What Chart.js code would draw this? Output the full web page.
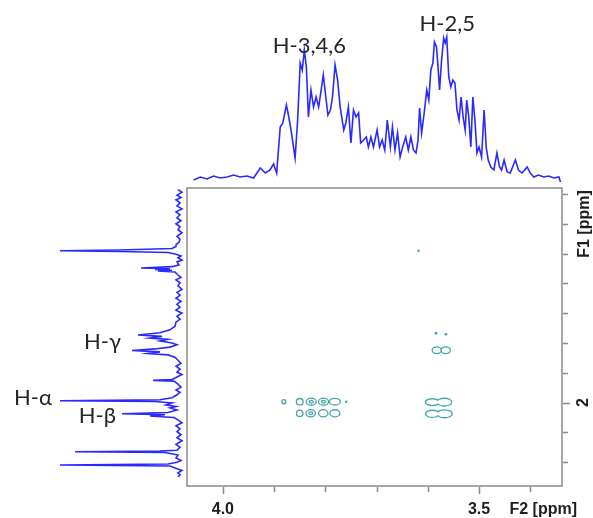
<!DOCTYPE html>
<html>
<head>
<meta charset="utf-8">
<script src="https://cdn.jsdelivr.net/npm/chart.js@4"></script>
<style>
  html, body { margin: 0; padding: 0; background: #fff; }
  #wrap { position: relative; width: 593px; height: 518px; }
  canvas { position: absolute; }
  #mainChart { left: 0; top: 0; }
  #topChart { left: 187px; top: 0; }
  #leftChart { left: 0; top: 188px; }
</style>
</head>
<body>
<div id="wrap">
  <canvas id="mainChart" width="593" height="518"></canvas>
  <canvas id="topChart" width="375" height="182"></canvas>
  <canvas id="leftChart" width="187" height="298"></canvas>
</div>
<script>
// axis windows (ppm) and ticks
var f2Min = 3.338, f2Max = 4.07;
var f1Min = 1.64, f1Max = 2.14;
var f2Ticks = [4.0, 3.9, 3.8, 3.7, 3.6, 3.5, 3.4];
var f2TickLabels = ['4.0', '', '', '', '', '3.5', ''];
var f1Ticks = [1.65, 1.70, 1.75, 1.80, 1.85, 1.90, 1.95, 2.00, 2.05, 2.10];
var f1TickLabels = ['', '', '', '', '', '', '', '2', '', ''];

// F2 projection (top trace)
var topPpm = [4.057,4.044,4.031,4.018,4.005,3.992,3.979,3.966,3.953,3.940,
  3.927,3.917,3.908,3.901,3.895,
  3.888,3.883,3.876,3.872,3.867,3.859,3.854,
  3.849,3.845,3.841,3.837,3.833,3.828,3.823,3.818,3.813,3.809,3.804,3.799,3.795,3.790,3.786,3.781,3.776,3.771,
  3.764,3.760,3.755,3.750,3.745,3.740,3.735,3.731,3.725,3.720,3.716,3.711,3.706,
  3.699,3.694,3.689,3.684,3.679,3.673,3.669,3.664,3.659,3.654,3.649,3.643,3.638,3.633,3.628,3.623,
  3.619,3.616,3.612,3.607,3.602,3.598,3.594,3.590,3.587,3.583,3.580,3.577,3.573,3.569,3.566,3.563,
  3.559,3.555,3.551,3.547,3.543,3.539,3.535,3.531,3.527,3.524,3.520,3.516,3.512,3.508,3.504,3.500,
  3.495,3.490,3.486,3.482,3.477,3.471,3.465,3.460,3.456,3.451,3.445,3.439,
  3.429,3.423,3.416,3.406,3.400,3.393,3.384,3.374,3.364,3.354,3.344,3.341];
var topInt = [0,3,1,4,2,3,5,3,4,2,
  12,7,10,16,7,
  53,57,75,65,50,22,60,
  117,110,130,113,63,90,73,83,73,87,105,83,65,70,83,115,100,73,
  50,57,73,37,70,63,67,37,40,43,33,43,33,
  50,33,40,30,60,33,53,30,47,23,33,43,30,43,30,27,
  40,72,47,67,90,80,110,117,138,133,113,90,120,142,137,143,
  103,93,100,97,70,60,83,63,50,80,63,33,83,60,27,33,
  23,70,33,20,13,10,27,13,10,20,8,7,
  20,10,7,13,7,3,5,3,4,2,3,-2];

// F1 projection (left trace)
var leftPpm = [1.643,1.647,1.652,1.656,1.660,1.665,1.670,1.675,1.680,1.685,1.690,1.695,1.700,1.705,1.710,1.715,1.721,1.726,1.731,
  1.735,1.738,1.7415,1.7440,1.7452,1.7465,1.7482,1.751,1.754,1.757,1.761,1.764,1.769,
  1.772,1.7742,1.7756,1.7768,1.7781,1.7793,1.781,1.786,1.790,1.794,1.799,1.804,
  1.810,1.815,1.820,1.825,1.830,1.835,1.840,1.845,1.850,1.855,1.860,1.865,1.872,1.878,1.883,1.8866,
  1.889,1.8916,1.894,1.8967,1.900,1.903,1.907,1.910,1.9127,1.915,
  1.9177,1.920,1.924,1.929,1.934,1.939,1.944,1.949,1.953,1.957,1.9613,1.9627,1.964,
  1.969,1.974,1.979,1.983,1.987,1.992,1.9953,1.9969,1.9982,2.0007,2.004,2.0066,
  2.009,2.0125,2.0167,2.0188,2.0205,2.0226,2.025,2.029,2.034,2.039,2.044,2.049,
  2.054,2.059,2.064,2.070,2.075,2.080,2.0813,2.0825,2.0838,2.088,2.093,2.097,2.100,2.103,
  2.1048,2.1065,2.111,2.114,2.118,2.121,2.125];
var leftInt = [2,-2,3,-1,4,0,3,-2,4,0,3,-1,4,0,2,-2,3,0,1,
  4,4,8,60,120,60,12,4,-1,2,-2,3,1,
  8,39,10,25,8,22,5,2,-1,4,0,2,
  -2,3,0,4,-1,3,0,4,-2,3,0,4,5,10,20,42,
  18,30,12,20,8,3,10,25,48,20,
  32,12,5,2,-1,4,0,3,-2,3,8,27,6,
  2,-1,4,0,3,8,20,120,25,8,14,4,
  10,3,12,58,15,30,6,2,-2,4,0,3,
  -1,3,-2,4,0,3,20,105,15,2,4,-1,3,12,
  120,10,3,-2,2,0,2];

// cross peaks: centre, half widths (ppm), contour levels (0 = tip only), merged contour group
var cpF2 = [3.881,3.850,3.8275,3.8035,3.7813,3.7592, 3.850,3.8285,3.8040,3.7813,
  3.5912,3.5678, 3.5912,3.5672, 3.5824,3.5648, 3.584,3.5645, 3.618];
var cpF1 = [1.9986,1.9986,1.9986,1.9986,1.9986,1.9986, 2.018,2.018,2.018,2.018,
  1.9993,1.9993, 2.0189,2.0189, 1.9123,1.9123, 1.8838,1.8855, 1.7452];
var cpHalfW = [0.0039,0.0066,0.0098,0.0098,0.0107,0.0025, 0.0064,0.0092,0.0092,0.0098,
  0.0122,0.0134, 0.0122,0.0138, 0.009,0.009, 0.0027,0.0027, 0.0023];
var cpHalfH = [0.0034,0.0054,0.0059,0.0059,0.0055,0.0022, 0.0054,0.0060,0.0060,0.0059,
  0.0046,0.0054, 0.0049,0.0055, 0.0057,0.0057, 0.0024,0.0024, 0.0020];
var cpLevels = [1,1,2,2,1,0, 1,2,1,1, 1,1, 1,1, 1,1, 0,0, 0];
var cpGroup = [0,0,0,0,0,0, 0,0,0,0, 1,1, 2,2, 0,0, 0,0, 0];

// annotations
var topLabels = ['H-3,4,6', 'H-2,5'];
var topLabelPpm = [3.831, 3.562];
var topLabelInt = [134, 156];
var leftLabels = ['H-γ', 'H-α', 'H-β'];
var leftLabelPpm = [1.898, 1.9923, 2.0226];
var leftLabelInt = [59, 128, 64];

var specColor = '#2a2aff';
var contourColor = '#45a6a6';
var axisColor = '#8a8a8a';
var textColor = '#1e1e1e';

function pairs(xs, ys) {
  return xs.map(function (x, i) { return { x: x, y: ys[i] }; });
}

function fixedTicks(values) {
  return function (scale) {
    scale.ticks = values.map(function (v) { return { value: v }; });
  };
}

// text labels anchored to data positions
var labelPlugin = {
  id: 'peakLabels',
  afterDatasetsDraw: function (chart, args, opts) {
    var ctx = chart.ctx, sx = chart.scales.x, sy = chart.scales.y;
    ctx.save();
    ctx.font = opts.font;
    ctx.fillStyle = '#262626';
    ctx.textAlign = opts.align;
    ctx.textBaseline = 'middle';
    opts.text.forEach(function (t, i) {
      ctx.fillText(t, sx.getPixelForValue(opts.xs[i]), sy.getPixelForValue(opts.ys[i]));
    });
    ctx.restore();
  }
};

// frame, tick marks, axis titles and rotated F1 labels
var framePlugin = {
  id: 'frame',
  beforeDatasetsDraw: function (chart) {
    var ctx = chart.ctx, a = chart.chartArea, sx = chart.scales.x, sy = chart.scales.y;
    ctx.save();
    ctx.strokeStyle = axisColor;
    ctx.lineWidth = 1.5;
    ctx.strokeRect(a.left, a.top, a.right - a.left, a.bottom - a.top);
    ctx.beginPath();
    f2Ticks.forEach(function (v, i) {
      var px = Math.round(sx.getPixelForValue(v)) + 0.5;
      ctx.moveTo(px, a.bottom + 1);
      ctx.lineTo(px, a.bottom + (f2TickLabels[i] ? 8 : 6));
    });
    f1Ticks.forEach(function (v, i) {
      var py = Math.round(sy.getPixelForValue(v)) + 0.5;
      ctx.moveTo(a.right + 1, py);
      ctx.lineTo(a.right + (f1TickLabels[i] ? 8 : 6), py);
    });
    ctx.stroke();
    ctx.restore();
  },
  afterDraw: function (chart) {
    var ctx = chart.ctx, a = chart.chartArea, sy = chart.scales.y;
    ctx.save();
    ctx.fillStyle = textColor;
    ctx.font = 'bold 16px "Liberation Sans", Arial, sans-serif';
    ctx.textBaseline = 'middle';
    ctx.textAlign = 'right';
    ctx.fillText('F2 [ppm]', chart.width - 16, a.bottom + 24);
    // F1 labels read bottom to top
    f1Ticks.forEach(function (v, i) {
      if (!f1TickLabels[i]) return;
      ctx.save();
      ctx.translate(chart.width - 9, sy.getPixelForValue(v));
      ctx.rotate(-Math.PI / 2);
      ctx.textAlign = 'center';
      ctx.fillText(f1TickLabels[i], 0, 0);
      ctx.restore();
    });
    ctx.translate(chart.width - 8, a.top + 36);
    ctx.rotate(-Math.PI / 2);
    ctx.textAlign = 'center';
    ctx.fillText('F1 [ppm]', 0, 0);
    ctx.restore();
  }
};

function ellipsePath(ctx, sx, sy, i, k) {
  var cx = sx.getPixelForValue(cpF2[i]), cy = sy.getPixelForValue(cpF1[i]);
  var rx = Math.abs(sx.getPixelForValue(cpF2[i] + cpHalfW[i]) - cx) * k;
  var ry = Math.abs(sy.getPixelForValue(cpF1[i] + cpHalfH[i]) - cy) * k;
  ctx.beginPath();
  ctx.ellipse(cx, cy, rx, ry, 0, 0, Math.PI * 2);
}

// contour outlines of the cross peaks
var contourPlugin = {
  id: 'contours',
  afterDatasetsDraw: function (chart) {
    var ctx = chart.ctx, sx = chart.scales.x, sy = chart.scales.y, a = chart.chartArea;
    ctx.save();
    ctx.beginPath();
    ctx.rect(a.left, a.top, a.right - a.left, a.bottom - a.top);
    ctx.clip();
    ctx.strokeStyle = contourColor;
    ctx.fillStyle = contourColor;
    ctx.lineWidth = 1.3;
    cpF2.forEach(function (v, i) {
      if (cpGroup[i]) return;
      if (cpLevels[i] === 0) {
        ellipsePath(ctx, sx, sy, i, 1);
        ctx.fill();
        return;
      }
      ellipsePath(ctx, sx, sy, i, 1);
      ctx.stroke();
      if (cpLevels[i] > 1) {
        ellipsePath(ctx, sx, sy, i, 0.4);
        ctx.stroke();
      }
    });
    // merged lobes: stroke wide, then blank the inside to keep only the outer edge
    var groups = cpGroup.filter(function (g, i, arr) { return g && arr.indexOf(g) === i; });
    groups.forEach(function (g) {
      var idx = [];
      cpGroup.forEach(function (h, i) { if (h === g) idx.push(i); });
      ctx.lineWidth = 2.6;
      idx.forEach(function (i) { ellipsePath(ctx, sx, sy, i, 1); ctx.stroke(); });
      ctx.fillStyle = '#fff';
      idx.forEach(function (i) { ellipsePath(ctx, sx, sy, i, 1); ctx.fill(); });
    });
    ctx.restore();
  }
};

Chart.defaults.animation = false;

new Chart(document.getElementById('mainChart'), {
  type: 'scatter',
  data: {
    datasets: [{
      data: pairs(cpF2, cpF1),
      pointRadius: 0,
      pointHoverRadius: 0
    }]
  },
  options: {
    responsive: false,
    layout: { padding: { left: 187, top: 188, right: 0, bottom: 0 } },
    plugins: { legend: { display: false }, tooltip: { enabled: false } },
    scales: {
      x: {
        type: 'linear', position: 'bottom', reverse: true,
        min: f2Min, max: f2Max,
        afterBuildTicks: fixedTicks(f2Ticks),
        afterFit: function (s) { s.height = 32; },
        border: { display: false },
        grid: { drawOnChartArea: false, drawTicks: true, tickLength: 6, color: 'rgba(0,0,0,0)' },
        ticks: {
          autoSkip: false, maxRotation: 0, padding: 8,
          color: textColor,
          font: { family: '"Liberation Sans", Arial, sans-serif', size: 16, weight: 'bold' },
          callback: function (v, i) { return f2TickLabels[i]; }
        }
      },
      y: {
        type: 'linear', position: 'right', reverse: true,
        min: f1Min, max: f1Max,
        afterBuildTicks: fixedTicks(f1Ticks),
        afterFit: function (s) { s.width = 31; },
        border: { display: false },
        grid: { display: false },
        ticks: { display: false }
      }
    }
  },
  plugins: [framePlugin, contourPlugin]
});

new Chart(document.getElementById('topChart'), {
  type: 'scatter',
  data: {
    datasets: [{
      data: pairs(topPpm, topInt),
      showLine: true,
      borderColor: specColor,
      borderWidth: 1.6,
      pointRadius: 0
    }]
  },
  options: {
    responsive: false,
    layout: { padding: 0 },
    plugins: {
      legend: { display: false }, tooltip: { enabled: false },
      peakLabels: { text: topLabels, xs: topLabelPpm, ys: topLabelInt, align: 'center',
        font: '22px Lato, "Open Sans", sans-serif' }
    },
    scales: {
      x: { type: 'linear', display: false, reverse: true, min: f2Min, max: f2Max },
      y: { type: 'linear', display: false, min: -2, max: 180 }
    }
  },
  plugins: [labelPlugin]
});

new Chart(document.getElementById('leftChart'), {
  type: 'scatter',
  data: {
    datasets: [{
      data: pairs(leftInt, leftPpm),
      showLine: true,
      borderColor: specColor,
      borderWidth: 1.6,
      pointRadius: 0
    }]
  },
  options: {
    responsive: false,
    layout: { padding: 0 },
    plugins: {
      legend: { display: false }, tooltip: { enabled: false },
      peakLabels: { text: leftLabels, xs: leftLabelInt, ys: leftLabelPpm, align: 'right',
        font: '22px Lato, "Open Sans", sans-serif' }
    },
    scales: {
      x: { type: 'linear', display: false, reverse: true, min: -7, max: 180 },
      y: { type: 'linear', display: false, reverse: true, min: f1Min, max: f1Max }
    }
  },
  plugins: [labelPlugin]
});
</script>
</body>
</html>
